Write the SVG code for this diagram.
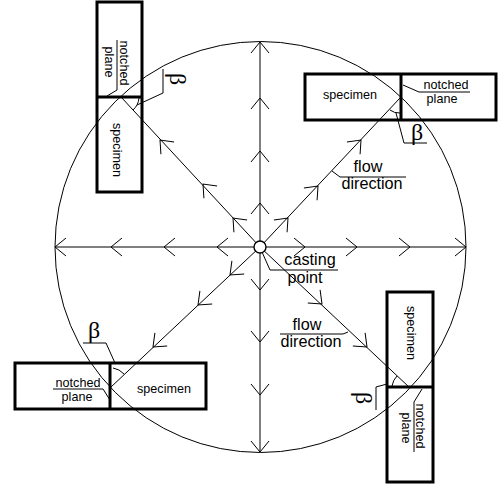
<svg xmlns="http://www.w3.org/2000/svg" width="498" height="489" viewBox="0 0 498 489">
<style>
.l{fill:none;stroke:#000;stroke-width:1}
.b{fill:none;stroke:#000;stroke-width:3}
.d{fill:none;stroke:#000;stroke-width:3}
.s{font:12.6px "Liberation Sans",Arial,sans-serif;text-anchor:middle;fill:#000}
.m{font:16.2px "Liberation Sans",Arial,sans-serif;text-anchor:middle;fill:#000}
.g{font:24px "Liberation Serif","Times New Roman",serif;fill:#000}
</style>
<defs>
<path id="h" class="l" d="M-11,-9L0,0L-11,9"/>
</defs>
<g id="connectors">
<circle class="l" cx="260.500" cy="247" r="205.500"/>
<path class="l" d="M55,247H466M260,42V452M260,247L400,98M260,247L121,97M260,247L111,387M260,247L409,387"/>
<use href="#h" transform="translate(55,247) rotate(180)"/>
<use href="#h" transform="translate(111,247) rotate(180)"/>
<use href="#h" transform="translate(164,247) rotate(180)"/>
<use href="#h" transform="translate(217,247) rotate(180)"/>
<use href="#h" transform="translate(305,247)"/>
<use href="#h" transform="translate(357,247)"/>
<use href="#h" transform="translate(410,247)"/>
<use href="#h" transform="translate(466,247)"/>
<use href="#h" transform="translate(260,42) rotate(-90)"/>
<use href="#h" transform="translate(260,98) rotate(-90)"/>
<use href="#h" transform="translate(260,151) rotate(-90)"/>
<use href="#h" transform="translate(260,203) rotate(-90)"/>
<use href="#h" transform="translate(260,290) rotate(90)"/>
<use href="#h" transform="translate(260,342) rotate(90)"/>
<use href="#h" transform="translate(260,395) rotate(90)"/>
<use href="#h" transform="translate(260,452) rotate(90)"/>
<use href="#h" transform="translate(288,218) rotate(-47)"/>
<use href="#h" transform="translate(318,186) rotate(-47)"/>
<use href="#h" transform="translate(361,140) rotate(-47)"/>
<use href="#h" transform="translate(233,218) rotate(-133)"/>
<use href="#h" transform="translate(203,184) rotate(-133)"/>
<use href="#h" transform="translate(160,140) rotate(-133)"/>
<use href="#h" transform="translate(230,275) rotate(137)"/>
<use href="#h" transform="translate(198,305) rotate(137)"/>
<use href="#h" transform="translate(153,347) rotate(137)"/>
<use href="#h" transform="translate(322,304) rotate(43)"/>
<use href="#h" transform="translate(367,347) rotate(43)"/>
<path class="l" d="M262,252L270,270H338"/>
<path class="l" d="M332,171L340,177H406"/>
<path class="l" d="M348,332L343,334H280"/>
</g>
<g id="node-casting-point">
<circle cx="260" cy="247" r="6" fill="#fff" stroke="#000" stroke-width="1.400"/>
<text class="m" x="310" y="265">casting</text>
<text class="m" x="305" y="283">point</text>
</g>
<g id="label-flow-ne">
<text class="m" x="368" y="172">flow</text>
<text class="m" x="372" y="189">direction</text>
</g>
<g id="label-flow-se">
<text class="m" x="307" y="330">flow</text>
<text class="m" x="311" y="347">direction</text>
</g>
<g id="node-nw">
<rect class="b" x="97" y="2" width="45" height="190"/>
<path class="d" d="M97,97H142"/>
<path class="l" d="M107,96L117,90V40M139,98A18,18 0 0 1 133,110M137,105L163,93V69"/>
<text class="s" transform="translate(119.500,63) rotate(90)">notched</text>
<text class="s" transform="translate(105,62) rotate(90)">plane</text>
<text class="s" transform="translate(113,150) rotate(90)">specimen</text>
<text class="g" transform="translate(170,73) rotate(90)">β</text>
</g>
<g id="node-ne">
<rect class="b" x="305" y="74" width="191" height="46"/>
<path class="d" d="M401,74V120"/>
<path class="l" d="M403,85L419,92H470M390,110A15,15 0 0 0 400,113M396,113L404,143H427"/>
<text class="s" x="446" y="89">notched</text>
<text class="s" x="442" y="103">plane</text>
<text class="s" x="350" y="99">specimen</text>
<text class="g" x="411" y="140">β</text>
</g>
<g id="node-sw">
<rect class="b" x="15" y="363" width="191" height="46"/>
<path class="d" d="M110,363V409"/>
<path class="l" d="M53,389H103L110,400M113,368A19,19 0 0 1 124,374M115,363L106,343H83"/>
<text class="s" x="78" y="387">notched</text>
<text class="s" x="77" y="401">plane</text>
<text class="s" x="164" y="393">specimen</text>
<text class="g" x="88" y="338">β</text>
</g>
<g id="node-se">
<rect class="b" x="387" y="292" width="46" height="190"/>
<path class="d" d="M387,387H433"/>
<path class="l" d="M422,389L414,402V452M392,386Q393,380 397,376M387,384L376,387V410"/>
<text class="s" transform="translate(416,426) rotate(90)">notched</text>
<text class="s" transform="translate(402,428) rotate(90)">plane</text>
<text class="s" transform="translate(407,333) rotate(90)">specimen</text>
<text class="g" transform="translate(356,392) rotate(90)">β</text>
</g>
</svg>
